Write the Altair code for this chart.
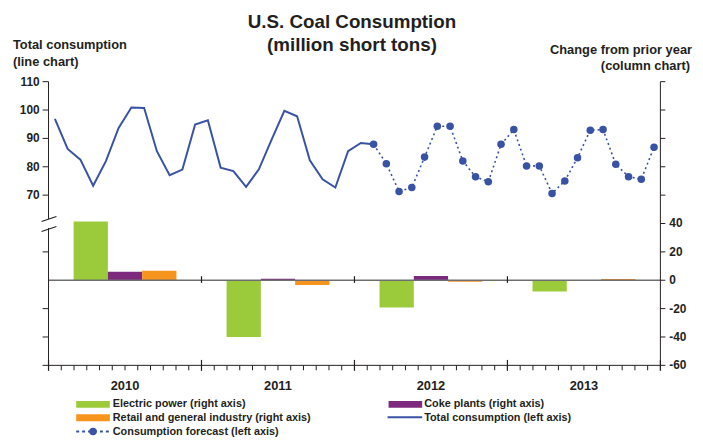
import altair as alt
import pandas as pd

# ---------------- data ----------------
month_actual = list(range(26))          # Jan 2010 .. Feb 2012
total_actual = [96.9, 86.3, 82.5, 73.3, 82.0, 93.7, 100.9, 100.7, 85.5, 77.0, 79.0, 94.9,
                96.4, 79.7, 78.5, 72.9, 79.1, 89.6, 99.7, 97.8, 82.3, 75.6, 72.7, 85.5,
                88.4, 87.9]
month_forecast = list(range(25, 48))    # Feb 2012 .. Dec 2013
total_forecast = [87.9, 81.1, 71.3, 72.7, 83.4, 94.3, 94.3, 82.0, 76.5, 74.7, 87.9,
                  93.1, 80.3, 80.3, 70.6, 75.0, 83.2, 92.9, 93.1, 80.9, 76.5, 75.6, 86.9]

years = ["2010", "2011", "2012", "2013"]
electric_power = [41.5, -40.0, -19.2, -8.0]
coke_plants = [6.0, 1.0, 3.0, -0.3]
retail_industry = [6.7, -3.3, -1.0, 0.9]

series_names = ["Electric power", "Coke plants", "Retail and general industry"]
series_colors = ["#9bcb3b", "#7d2a7e", "#f7941e"]

left_ticks = [10, 20, 30, 50, 70, 80, 90, 100, 110]
left_labels = ["70", "80", "90", "100", "110"]
right_ticks = [-60, -40, -20, 0, 20, 40, 60, 80, 100, 120, 140]
right_labels = ["-60", "-40", "-20", "0", "20", "40"]
month_edges = [i - 0.5 for i in range(49)]
year_edges = [-0.5, 11.5, 23.5, 35.5, 47.5]
inner_year_edges = [11.5, 23.5, 35.5]

title_lines = ["U.S. Coal Consumption", "(million short tons)"]
left_title = ["Total consumption", "(line chart)"]
right_title = ["Change from prior year", "(column chart)"]
legend_left = ["Electric power (right axis)", "Retail and general industry (right axis)",
               "Consumption forecast (left axis)"]
legend_right = ["Coke plants (right axis)", "Total consumption (left axis)"]

BLUE = "#3953a4"
INK = "#231f20"
FONT = "Liberation Sans"
W, H = 619, 287

actual_df = pd.DataFrame({"m": month_actual, "v": total_actual})
fc_df = pd.DataFrame({"m": month_forecast, "v": total_forecast})
bar_rows = []
for i, y in enumerate(years):
    for name, vals in zip(series_names, [electric_power, coke_plants, retail_industry]):
        bar_rows.append({"year": y, "series": name, "value": vals[i]})
bar_df = pd.DataFrame(bar_rows)

one = pd.DataFrame({"k": [0]})

# ---------------- line layer (left scale) ----------------
xq = alt.X("m:Q", scale=alt.Scale(domain=[-0.5, 47.5], nice=False, zero=False), axis=None)
yl = alt.Y("v:Q", scale=alt.Scale(domain=[10, 110], nice=False, zero=False), axis=None)
xn = alt.X("m:Q", axis=None)
yn = alt.Y("v:Q", axis=None)

actual = alt.Chart(actual_df).mark_line(color=BLUE, strokeWidth=2).encode(x=xq, y=yl)
fc_line = alt.Chart(fc_df).mark_line(color=BLUE, strokeWidth=1.6, strokeDash=[2, 3]).encode(x=xn, y=yn)
fc_pts = alt.Chart(fc_df).mark_circle(color=BLUE, size=58, opacity=1).encode(x=xn, y=yn)

month_ticks = alt.Chart(pd.DataFrame({"m": month_edges})).mark_rule(color=INK, strokeWidth=1).encode(
    x=xn, y=alt.value(H), y2=alt.value(H + 5))
year_ticks = alt.Chart(pd.DataFrame({"m": year_edges})).mark_rule(color=INK, strokeWidth=1.2).encode(
    x=xn, y=alt.value(281.5), y2=alt.value(292.5))
zero_ticks = alt.Chart(pd.DataFrame({"m": inner_year_edges})).mark_rule(color=INK, strokeWidth=1.2).encode(
    x=xn, y=alt.value(196.8), y2=alt.value(203.6))
l_ticks = alt.Chart(pd.DataFrame({"v": left_ticks})).mark_rule(color=INK, strokeWidth=1).encode(
    y=yn, x=alt.value(-6), x2=alt.value(0))
l_labels = alt.Chart(pd.DataFrame({"v": left_ticks[-5:], "lab": left_labels})).mark_text(
    font=FONT, fontWeight="bold", fontSize=12, color=INK, align="right", baseline="middle").encode(
    y=yn, x=alt.value(-9), text="lab:N")

line_layer = alt.layer(actual, fc_line, fc_pts, month_ticks, year_ticks, zero_ticks, l_ticks, l_labels)

# ---------------- bar layer (right scale) ----------------
bars = alt.Chart(bar_df).mark_bar().encode(
    x=alt.X("year:N", sort=years,
            scale=alt.Scale(domain=years, paddingInner=0.328, paddingOuter=0.164),
            axis=alt.Axis(orient="bottom", domain=False, ticks=False, tickSize=0,
                          labelPadding=14, labelFontSize=13, labelAngle=0,
                          title=None, grid=False)),
    xOffset=alt.XOffset("series:N", sort=series_names,
                        scale=alt.Scale(domain=series_names, paddingInner=0, paddingOuter=0)),
    y=alt.Y("value:Q", scale=alt.Scale(domain=[-60, 140], nice=False, zero=False), axis=None),
    color=alt.Color("series:N", scale=alt.Scale(domain=series_names, range=series_colors), legend=None),
)
yr = alt.Y("value:Q", axis=None)
zero_rule = alt.Chart(pd.DataFrame({"value": [0]})).mark_rule(color="#6d6e71", strokeWidth=1.5).encode(y=yr)
r_ticks = alt.Chart(pd.DataFrame({"value": right_ticks})).mark_rule(color=INK, strokeWidth=1).encode(
    y=yr, x=alt.value(W), x2=alt.value(W + 5))
r_labels = alt.Chart(pd.DataFrame({"value": right_ticks[:6], "lab": right_labels})).mark_text(
    font=FONT, fontWeight="bold", fontSize=12, color=INK, align="left", baseline="middle").encode(
    y=yr, x=alt.value(W + 9), text="lab:N")
bar_layer = alt.layer(bars, zero_rule, r_ticks, r_labels)


# ---------------- decorations, texts & legend (pixel positioned) ----------------
def rule(x, y, x2=None, y2=None, color=INK, width=1.0, dash=None):
    enc = {"x": alt.value(x), "y": alt.value(y)}
    if x2 is not None:
        enc["x2"] = alt.value(x2)
    if y2 is not None:
        enc["y2"] = alt.value(y2)
    kw = {"color": color, "strokeWidth": width}
    if dash:
        kw["strokeDash"] = dash
    return alt.Chart(one).mark_rule(**kw).encode(**enc)


def text(s, x, y, size, align="left", baseline="alphabetic"):
    return alt.Chart(one).mark_text(font=FONT, fontWeight="bold", fontSize=size, color=INK,
                                    align=align, baseline=baseline).encode(
        x=alt.value(x), y=alt.value(y), text=alt.value(s))


def rect(x, x2, y, y2, color):
    return alt.Chart(one).mark_rect(color=color).encode(
        x=alt.value(x), x2=alt.value(x2), y=alt.value(y), y2=alt.value(y2))


deco = [
    rule(0, 0, y2=139),            # left axis line with a break
    rule(0, 148, y2=H),
    rule(-7, 141.5, x2=8, y2=136.5, width=1.1),
    rule(-7, 151.5, x2=8, y2=146.5, width=1.1),
    rule(W, 0, y2=H),              # right axis line
    rule(0, H, x2=W),              # bottom axis line
    text(title_lines[0], 307, -54, 19, align="center"),
    text(title_lines[1], 307, -31, 19, align="center"),
    text(left_title[0], -36, -33, 13),
    text(left_title[1], -36, -16, 13),
    text(right_title[0], 651, -28, 13, align="right"),
    text(right_title[1], 649, -12, 13, align="right"),
    rect(28, 62, 323, 330, series_colors[0]),
    rect(28, 62, 336.5, 343.5, series_colors[2]),
    rect(344, 378, 323, 330, series_colors[1]),
    rule(28, 354, x2=62, color=BLUE, width=2, dash=[3, 3]),
    alt.Chart(one).mark_circle(color=BLUE, size=58, opacity=1).encode(x=alt.value(45), y=alt.value(354)),
    rule(343, 339.5, x2=378, color=BLUE, width=2),
    text(legend_left[0], 65, 326.5, 11, baseline="middle"),
    text(legend_left[1], 65, 340, 11, baseline="middle"),
    text(legend_left[2], 65, 354, 11, baseline="middle"),
    text(legend_right[0], 380, 326.5, 11, baseline="middle"),
    text(legend_right[1], 380, 340, 11, baseline="middle"),
]

chart = alt.layer(bar_layer, line_layer, *deco).resolve_scale(
    x="independent", y="independent"
).properties(
    width=W, height=H,
    autosize=alt.AutoSizeParams(type="none"),
    padding={"left": 41, "top": 72, "right": 35, "bottom": 73},
).configure_view(stroke=None).configure_axis(
    labelFont=FONT, labelFontWeight="bold", labelColor=INK, labelFontSize=12,
)

chart.save("out.html", embed_options={"renderer": "svg", "actions": False})
